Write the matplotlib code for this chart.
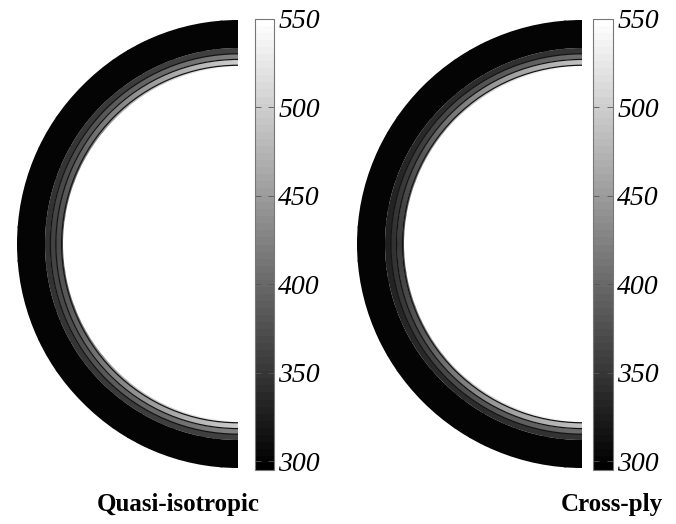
import numpy as np
import matplotlib
matplotlib.use("Agg")
import matplotlib.pyplot as plt
from matplotlib.patches import Wedge, Arc
from matplotlib.colors import Normalize

plt.rcParams['font.family'] = ['Liberation Serif', 'DejaVu Serif']

# cylinder wall, radius normalised by the outer radius
layer_r = [0.79, 0.798, 0.824, 0.849, 0.874, 1.0]
# interfaces drawn as thin dark rings
interface_r = [0.798, 0.824, 0.849]

# stations around the half section (deg, 90 = top, 180 = left, 270 = bottom)
angles_deg = [90, 120, 150, 180, 210, 240, 270]

# temperature per layer (inner -> outer) at each station
quasi_T = [
    [545, 490, 420, 378, 420, 490, 545],
    [500, 450, 395, 370, 395, 450, 500],
    [425, 395, 372, 362, 372, 395, 425],
    [360, 355, 350, 346, 350, 355, 360],
    [302, 301, 300, 299, 300, 301, 302],
]
cross_T = [
    [548, 510, 430, 365, 430, 510, 548],
    [490, 445, 385, 352, 385, 445, 490],
    [405, 380, 358, 345, 358, 380, 405],
    [350, 342, 335, 330, 335, 342, 350],
    [302, 301, 300, 299, 300, 301, 302],
]

titles = ['Quasi-isotropic', 'Cross-ply']
cb_ticks = [300, 350, 400, 450, 500, 550]
t_min, t_max = 295, 550

W, H = 676, 524
cmap = plt.get_cmap('gray').resampled(64)
norm = Normalize(vmin=t_min, vmax=t_max)


def px_box(x0, y0, x1, y1):
    # pixel box (top-left origin) -> figure fraction rect
    return [x0 / W, 1 - y1 / H, (x1 - x0) / W, (y1 - y0) / H]


def draw_section(ax, temps):
    th = np.deg2rad(angles_deg)
    half = np.deg2rad(angles_deg[1] - angles_deg[0]) / 2
    for k in range(len(layer_r) - 1):
        r0, r1 = layer_r[k], layer_r[k + 1]
        rr = np.array([r0 * np.cos(half) - 0.02, r1 / np.cos(half) + 0.02])
        X = np.outer(rr, np.cos(th))
        Y = np.outer(rr, np.sin(th))
        C = np.vstack([temps[k], temps[k]])
        mesh = ax.pcolormesh(X, Y, C, shading='gouraud', cmap=cmap, norm=norm)
        ring = Wedge((0, 0), r1, 90, 270, width=r1 - r0, transform=ax.transData)
        mesh.set_clip_path(ring)
    for r in interface_r:
        ax.add_patch(Arc((0, 0), 2 * r, 2 * r, theta1=90, theta2=270,
                         lw=0.9, color='#141414'))
    ax.set_xlim(-1, 0)
    ax.set_ylim(-1, 1)
    ax.axis('off')


def draw_colorbar(cax):
    sm = matplotlib.cm.ScalarMappable(norm=norm, cmap=cmap)
    cb = fig.colorbar(sm, cax=cax, ticks=cb_ticks)
    cb.outline.set_edgecolor('#777777')
    cb.outline.set_linewidth(0.8)
    cax.tick_params(direction='in', length=4, width=0.6, color='#555555',
                    left=True, right=True, labelleft=False, labelright=True,
                    labelsize=20, pad=3)
    for lab in cax.get_yticklabels():
        lab.set_fontstyle('italic')


fig = plt.figure(figsize=(W / 100, H / 100), dpi=100)

ax1 = fig.add_axes(px_box(17, 20, 238, 468))
ax2 = fig.add_axes(px_box(357, 20, 582, 468))
cax1 = fig.add_axes(px_box(255, 19, 274, 470))
cax2 = fig.add_axes(px_box(593, 19, 613, 470))

draw_section(ax1, quasi_T)
draw_section(ax2, cross_T)
draw_colorbar(cax1)
draw_colorbar(cax2)

fig.text(178 / W, 1 - 505 / H, titles[0], ha='center', va='center',
         fontsize=18, fontweight='bold')
fig.text(612 / W, 1 - 505 / H, titles[1], ha='center', va='center',
         fontsize=18, fontweight='bold')

fig.savefig('out.png', dpi=100)
